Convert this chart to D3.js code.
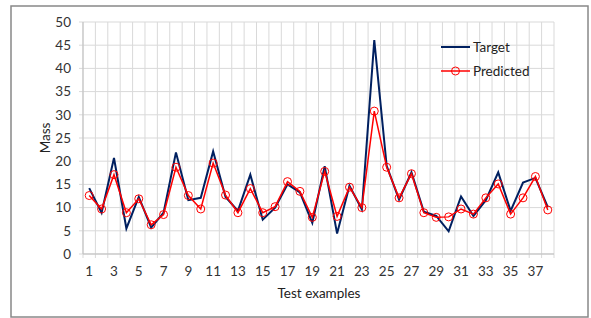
<!DOCTYPE html>
<html><head><meta charset="utf-8">
<script src="https://cdn.jsdelivr.net/npm/d3@7"></script>
<style>body{margin:0;background:#fff;} svg{display:block;font-family:Lato,"Open Sans",sans-serif;}</style>
</head><body>
<script>
const categories = d3.range(1, 39);
const target = [14.2,8.9,20.7,5.5,12.3,5.7,8.9,21.9,11.6,12.1,22.1,12.3,9.3,17.1,7.4,10.0,15.0,13.3,6.7,18.9,4.4,14.7,9.6,46.1,19.0,11.7,17.6,9.1,8.2,4.9,12.4,8.2,11.6,17.6,9.3,15.4,16.4,10.1];
const predicted = [12.6,9.7,17.1,8.9,11.9,6.3,8.5,18.7,12.6,9.7,19.6,12.7,8.9,14.1,8.9,10.2,15.6,13.5,7.9,17.8,8.1,14.4,10.0,30.8,18.7,12.1,17.3,8.9,7.9,8.0,9.7,8.6,12.1,15.1,8.6,12.1,16.7,9.5];
const yTicks = d3.range(0, 51, 5);
const xTickLabels = categories.filter(c => c % 2 === 1);
const seriesNames = ["Target", "Predicted"];

const W = 591, H = 318;
const svg = d3.select("body").append("svg").attr("width", W).attr("height", H);
svg.append("rect").attr("x", 11).attr("y", 6).attr("width", 577).attr("height", 311)
  .attr("fill", "#fff").attr("stroke", "#888").attr("stroke-width", 1.5);

const L = 83, R = 554, T = 22, B = 254;
const x = d3.scaleBand().domain(categories).range([L, R]);
const y = d3.scaleLinear().domain([0, 50]).range([B, T]);
const grid = "#d9d9d9";

svg.append("g").selectAll("line").data(yTicks).join("line")
  .attr("x1", L).attr("x2", R).attr("y1", d => y(d)).attr("y2", d => y(d))
  .attr("stroke", grid).attr("stroke-width", 1);
const bounds = categories.map(c => x(c)).concat([R]);
svg.append("g").selectAll("line").data(bounds).join("line")
  .attr("x1", d => d).attr("x2", d => d).attr("y1", T).attr("y2", B + 4)
  .attr("stroke", grid).attr("stroke-width", 1);
svg.append("g").selectAll("line").data(yTicks).join("line")
  .attr("x1", L - 4).attr("x2", L).attr("y1", d => y(d)).attr("y2", d => y(d))
  .attr("stroke", grid);
svg.append("line").attr("x1", L).attr("x2", L).attr("y1", T).attr("y2", B).attr("stroke", "#bfbfbf");
svg.append("line").attr("x1", L).attr("x2", R).attr("y1", B).attr("y2", B).attr("stroke", "#bfbfbf");

svg.append("g").selectAll("text").data(yTicks).join("text")
  .attr("x", 71).attr("y", d => y(d)).attr("dy", "0.35em").attr("text-anchor", "end")
  .attr("font-size", 13.5).attr("fill", "#333").text(d => d);
svg.append("g").selectAll("text").data(xTickLabels).join("text")
  .attr("x", d => x(d) + x.bandwidth() / 2).attr("y", 271).attr("dy", "0.35em").attr("text-anchor", "middle")
  .attr("font-size", 13.5).attr("fill", "#333").text(d => d);

svg.append("text").attr("x", 319).attr("y", 293).attr("dy", "0.35em").attr("text-anchor", "middle")
  .attr("font-size", 13.5).attr("fill", "#222").text("Test examples");
svg.append("text").attr("transform", "translate(45,138) rotate(-90)").attr("dy", "0.35em").attr("text-anchor", "middle")
  .attr("font-size", 13.5).attr("fill", "#222").text("Mass");

const cx = c => x(c) + x.bandwidth() / 2;
const line = d3.line().x(d => cx(d[0])).y(d => y(d[1]));
svg.append("path").datum(categories.map((c, i) => [c, target[i]])).attr("d", line)
  .attr("fill", "none").attr("stroke", "#002060").attr("stroke-width", 2).attr("stroke-linejoin", "miter");
svg.append("path").datum(categories.map((c, i) => [c, predicted[i]])).attr("d", line)
  .attr("fill", "none").attr("stroke", "#ff0000").attr("stroke-width", 1.5);
svg.append("g").selectAll("circle").data(categories).join("circle")
  .attr("cx", d => cx(d)).attr("cy", (d, i) => y(predicted[i])).attr("r", 4)
  .attr("fill", "none").attr("stroke", "#ff0000").attr("stroke-width", 1);

const lg = svg.append("g");
lg.append("line").attr("x1", 441).attr("x2", 470).attr("y1", 47).attr("y2", 47).attr("stroke", "#002060").attr("stroke-width", 2);
lg.append("text").attr("x", 473).attr("y", 47).attr("dy", "0.35em").attr("font-size", 13.5).attr("fill", "#222").text(seriesNames[0]);
lg.append("line").attr("x1", 441).attr("x2", 470).attr("y1", 71).attr("y2", 71).attr("stroke", "#ff0000").attr("stroke-width", 1.5);
lg.append("circle").attr("cx", 455.5).attr("cy", 71).attr("r", 4).attr("fill", "none").attr("stroke", "#ff0000");
lg.append("text").attr("x", 473).attr("y", 71).attr("dy", "0.35em").attr("font-size", 13.5).attr("fill", "#222").text(seriesNames[1]);
</script>
</body></html>
